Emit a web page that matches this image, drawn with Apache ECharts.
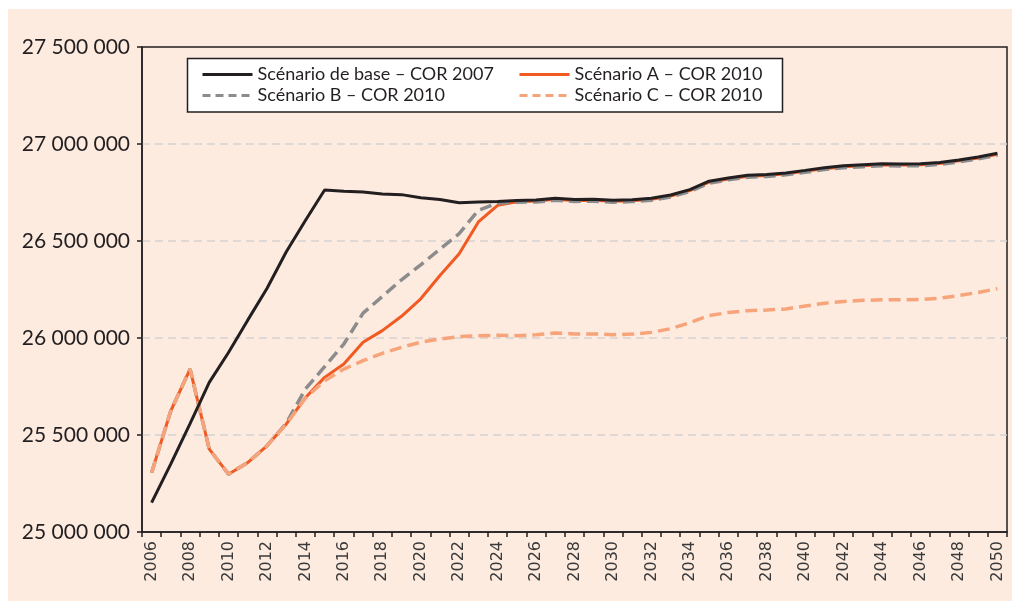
<!DOCTYPE html>
<html>
<head>
<meta charset="utf-8">
<script src="https://cdn.jsdelivr.net/npm/echarts@6/dist/echarts.min.js"></script>
<style>html,body{margin:0;padding:0;background:#fff;}#c{width:1012px;height:601px;}</style>
</head>
<body>
<div id="c"></div>
<script>
const years = ['2006','2007','2008','2009','2010','2011','2012','2013','2014','2015','2016','2017','2018','2019','2020','2021','2022','2023','2024','2025','2026','2027','2028','2029','2030','2031','2032','2033','2034','2035','2036','2037','2038','2039','2040','2041','2042','2043','2044','2045','2046','2047','2048','2049','2050'];

const seriesNames = ['Scénario de base – COR 2007','Scénario A – COR 2010','Scénario B – COR 2010','Scénario C – COR 2010'];

const baseCOR2007 = [25151000,25351000,25559000,25771000,25925000,26092000,26255000,26443000,26606000,26763000,
  26757000,26753000,26742000,26739000,26723000,26714000,26697000,26701000,26703000,26709000,
  26711000,26720000,26714000,26715000,26710000,26713000,26720000,26737000,26765000,26808000,
  26825000,26839000,26843000,26851000,26864000,26878000,26888000,26893000,26898000,26897000,
  26898000,26905000,26918000,26933000,26952000];

const scenarioA = [25306000,25625000,25840000,25427000,25298000,25358000,25444000,25556000,25692000,25797000,
  25866000,25978000,26038000,26112000,26202000,26322000,26434000,26598000,26684000,26702000,
  26706000,26715000,26709000,26710000,26705000,26708000,26715000,26732000,26760000,26803000,
  26820000,26834000,26838000,26846000,26859000,26873000,26883000,26888000,26893000,26892000,
  26893000,26900000,26913000,26928000,26947000];

const scenarioB = [25306000,25625000,25840000,25427000,25298000,25358000,25444000,25560000,25737000,25852000,
  25969000,26128000,26214000,26300000,26377000,26458000,26538000,26658000,26695000,26700000,
  26701000,26710000,26704000,26705000,26700000,26703000,26710000,26727000,26755000,26798000,
  26815000,26829000,26833000,26841000,26854000,26868000,26878000,26883000,26888000,26887000,
  26888000,26895000,26908000,26923000,26942000];

const scenarioC = [25306000,25625000,25840000,25427000,25298000,25358000,25444000,25556000,25690000,25780000,
  25840000,25883000,25921000,25952000,25978000,25995000,26007000,26011000,26014000,26012000,
  26017000,26026000,26021000,26021000,26017000,26020000,26029000,26048000,26079000,26116000,
  26131000,26141000,26144000,26150000,26165000,26179000,26188000,26194000,26197000,26197000,
  26198000,26205000,26219000,26235000,26254000];

const yTicks = {min: 25000000, max: 27500000, interval: 500000};

const colBase = '#231f20', colA = '#f15a22', colB = '#8c8c8c', colC = '#f8a47a';

const chart = echarts.init(document.getElementById('c'), null, {renderer: 'canvas'});
const fmt = v => String(v).replace(/\B(?=(\d{3})+(?!\d))/g, ' ');
const legendText = {fontFamily: 'Lato', fontSize: 18, color: '#231f20', lineHeight: 21};
const noSym = {opacity: 0};

chart.setOption({
  backgroundColor: '#ffffff',
  animation: false,
  graphic: [
    {type: 'rect', z: -100, shape: {x: 8, y: 9, width: 1004, height: 592}, style: {fill: '#fdebe0'}},
    {type: 'rect', z: 1, shape: {x: 187.5, y: 58.5, width: 595, height: 53.5}, style: {fill: '#ffffff', stroke: '#231f20', lineWidth: 1.5}}
  ],
  grid: {left: 142, right: 5, top: 47, bottom: 69, show: true, borderColor: '#231f20', borderWidth: 1.5, backgroundColor: 'transparent'},
  legend: [
    {orient: 'vertical', left: 201, top: 64, padding: 0, itemWidth: 50, itemHeight: 14, itemGap: 0, textStyle: legendText,
     data: [{name: seriesNames[0], itemStyle: noSym, lineStyle: {width: 3}},
            {name: seriesNames[2], itemStyle: noSym, lineStyle: {width: 3, type: [8, 5]}}]},
    {orient: 'vertical', left: 518, top: 64, padding: 0, itemWidth: 50, itemHeight: 14, itemGap: 0, textStyle: legendText,
     data: [{name: seriesNames[1], itemStyle: noSym, lineStyle: {width: 3}},
            {name: seriesNames[3], itemStyle: noSym, lineStyle: {width: 3, type: [8, 5]}}]}
  ],
  xAxis: {
    type: 'category', data: years, boundaryGap: true,
    axisLine: {lineStyle: {color: '#231f20', width: 1.5}},
    axisTick: {show: true, interval: 0, length: 5, lineStyle: {color: '#231f20', width: 1.5}},
    axisLabel: {interval: 1, rotate: 90, margin: 9, fontFamily: 'DejaVu Sans', fontSize: 16, color: '#3a3a3a'},
    splitLine: {show: false}
  },
  yAxis: {
    type: 'value', min: yTicks.min, max: yTicks.max, interval: yTicks.interval,
    axisLine: {show: true, lineStyle: {color: '#231f20', width: 1.5}},
    axisTick: {show: true, length: 5, lineStyle: {color: '#231f20', width: 1.5}},
    axisLabel: {formatter: fmt, margin: 12, fontFamily: 'Lato', fontSize: 21, color: '#231f20'},
    splitLine: {show: true, showMinLine: false, showMaxLine: false, lineStyle: {color: '#d6d2cf', width: 1.5, type: [8, 5]}}
  },
  series: [
    {name: seriesNames[1], type: 'line', data: scenarioA, symbol: 'none', z: 2,
     lineStyle: {color: colA, width: 3}, itemStyle: {color: colA}},
    {name: seriesNames[2], type: 'line', data: scenarioB, symbol: 'none', z: 3,
     lineStyle: {color: colB, width: 3.5, type: [12, 6]}, itemStyle: {color: colB}},
    {name: seriesNames[3], type: 'line', data: scenarioC, symbol: 'none', z: 4,
     lineStyle: {color: colC, width: 3.5, type: [12, 6]}, itemStyle: {color: colC}},
    {name: seriesNames[0], type: 'line', data: baseCOR2007, symbol: 'none', z: 5,
     lineStyle: {color: colBase, width: 3}, itemStyle: {color: colBase}}
  ]
});
</script>
</body>
</html>
